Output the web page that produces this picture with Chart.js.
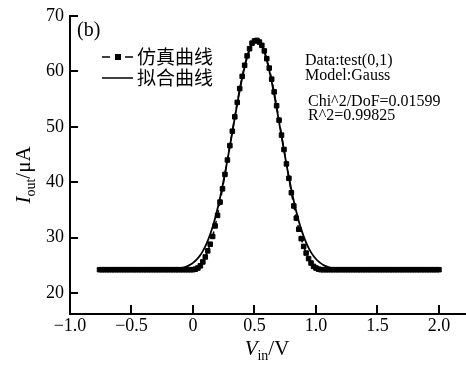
<!DOCTYPE html>
<html><head><meta charset="utf-8">
<script src="https://cdn.jsdelivr.net/npm/chart.js@4"></script>
<style>html,body{margin:0;padding:0;background:#fff;}#wrap{width:466px;height:366px;}</style>
</head><body><div id="wrap"><canvas id="c" width="466" height="366"></canvas></div>
<script>
// ---- data ----
const simV = [-0.76,-0.74,-0.72,-0.70,-0.68,-0.66,-0.64,-0.62,-0.60,-0.58,-0.56,-0.54,-0.52,-0.50,-0.48,-0.46,-0.44,-0.42,-0.40,-0.38,-0.36,-0.34,-0.32,-0.30,-0.28,-0.26,-0.24,-0.22,-0.20,-0.18,-0.16,-0.14,-0.12,-0.10,-0.08,-0.06,-0.04,-0.02,
0.00,0.02,0.04,0.06,0.08,0.10,0.12,0.14,0.16,0.18,0.20,0.22,0.24,0.26,0.28,0.30,0.32,0.34,0.36,0.38,0.40,0.42,0.44,0.46,0.48,0.50,0.52,0.54,0.56,0.58,0.60,0.62,0.64,0.66,0.68,0.70,0.72,0.74,0.76,0.78,0.80,0.82,0.84,0.86,0.88,0.90,0.92,0.94,0.96,0.98,1.00,1.02,1.04,
1.06,1.08,1.10,1.12,1.14,1.16,1.18,1.20,1.22,1.24,1.26,1.28,1.30,1.32,1.34,1.36,1.38,1.40,1.42,1.44,1.46,1.48,1.50,1.52,1.54,1.56,1.58,1.60,1.62,1.64,1.66,1.68,1.70,1.72,1.74,1.76,1.78,1.80,1.82,1.84,1.86,1.88,1.90,1.92,1.94,1.96,1.98,2.00];
const simI = [24.2,24.2,24.2,24.2,24.2,24.2,24.2,24.2,24.2,24.2,24.2,24.2,24.2,24.2,24.2,24.2,24.2,24.2,24.2,24.2,24.2,24.2,24.2,24.2,24.2,24.2,24.2,24.2,24.2,24.2,24.2,24.2,24.2,24.2,24.2,24.2,24.2,24.2,
24.2,24.3,24.5,24.9,25.6,26.5,27.6,28.8,30.2,32.1,34.0,36.4,38.8,41.4,44.0,46.6,49.2,51.8,54.4,56.9,59.1,61.1,62.8,64.1,65.1,65.5,65.6,65.3,64.7,63.7,62.3,60.6,58.6,56.3,53.8,51.2,48.5,45.9,43.3,40.7,38.1,35.7,33.5,31.5,29.8,28.4,27.2,26.2,25.4,24.8,24.5,24.3,24.2,
24.2,24.2,24.2,24.2,24.2,24.2,24.2,24.2,24.2,24.2,24.2,24.2,24.2,24.2,24.2,24.2,24.2,24.2,24.2,24.2,24.2,24.2,24.2,24.2,24.2,24.2,24.2,24.2,24.2,24.2,24.2,24.2,24.2,24.2,24.2,24.2,24.2,24.2,24.2,24.2,24.2,24.2,24.2,24.2,24.2,24.2,24.2,24.2];
const fitV = [-0.76,-0.50,-0.30,-0.20,-0.14,-0.10,-0.08,-0.06,-0.04,-0.02,0.00,0.02,0.04,0.06,0.08,0.10,0.12,0.14,0.16,0.18,0.20,0.22,0.24,0.26,0.28,0.30,0.32,0.34,0.36,0.38,0.40,0.42,0.44,0.46,0.48,0.50,0.52,0.54,0.56,0.58,0.60,0.62,0.64,0.66,0.68,0.70,0.72,0.74,0.76,0.78,0.80,0.82,0.84,0.86,0.88,0.90,0.92,0.94,0.96,0.98,1.00,1.02,1.04,1.06,1.08,1.10,1.12,1.14,1.18,1.24,1.40,1.70,2.00];
const fitI = [24.2,24.2,24.2,24.25,24.34,24.48,24.58,24.72,24.90,25.13,25.43,25.81,26.28,26.86,27.56,28.41,29.41,30.59,31.95,33.50,35.25,37.18,39.29,41.57,43.98,46.49,49.05,51.62,54.14,56.55,58.78,60.78,62.50,63.87,64.86,65.44,65.60,65.31,64.61,63.49,62.01,60.21,58.13,55.84,53.39,50.85,48.28,45.73,43.24,40.87,38.64,36.58,34.70,33.01,31.52,30.22,29.09,28.14,27.33,26.67,26.13,25.69,25.34,25.06,24.84,24.67,24.55,24.45,24.33,24.24,24.2,24.2,24.2];
const legendLabels = ['仿真曲线','拟合曲线'];
const infoLines = ['Data:test(0,1)','Model:Gauss','Chi^2/DoF=0.01599','R^2=0.99825'];
const panelLabel = '(b)';
const xTitle = ['V','in','/V'];
const yTitle = ['I','out','/μA'];

const serif = '"Liberation Serif","Times New Roman",serif';
const cjk = '"Noto Sans CJK SC","Noto Sans CJK JP",sans-serif';

const simPts = simV.map((v,i)=>({x:v,y:simI[i]}));
const fitPts = fitV.map((v,i)=>({x:v,y:fitI[i]}));

function drawTitle(ctx, parts, size, sub){
  ctx.font = 'italic '+size+'px '+serif; const w0 = ctx.measureText(parts[0]).width;
  ctx.font = sub+'px '+serif; const w1 = ctx.measureText(parts[1]).width;
  ctx.font = size+'px '+serif; const w2 = ctx.measureText(parts[2]).width;
  const tot = w0+w1+w2;
  let x = -tot/2;
  ctx.textBaseline='alphabetic'; ctx.textAlign='left';
  ctx.font = 'italic '+size+'px '+serif; ctx.fillText(parts[0], x, 0); x+=w0;
  ctx.font = sub+'px '+serif; ctx.fillText(parts[1], x, 5); x+=w1;
  ctx.font = size+'px '+serif; ctx.fillText(parts[2], x, 0);
}

const overlay = {
  id:'overlay',
  afterDraw(chart){
    const {ctx, scales:{x,y}, chartArea:a} = chart;
    ctx.save();
    ctx.strokeStyle='#000'; ctx.fillStyle='#000'; ctx.lineWidth=2;
    y.ticks.forEach(t=>{const py=Math.round(y.getPixelForValue(t.value));
      ctx.beginPath(); ctx.moveTo(a.left, py); ctx.lineTo(a.left+8, py); ctx.stroke();});
    x.ticks.forEach(t=>{ if (t.value<=x.min) return; const px=Math.round(x.getPixelForValue(t.value));
      ctx.beginPath(); ctx.moveTo(px, a.bottom); ctx.lineTo(px, a.bottom-9); ctx.stroke();});
    ctx.save(); ctx.translate(267, 355); drawTitle(ctx, xTitle, 21, 14); ctx.restore();
    ctx.save(); ctx.translate(30, 175); ctx.rotate(-Math.PI/2); drawTitle(ctx, yTitle, 21, 14); ctx.restore();
    ctx.font = '20px '+serif; ctx.textAlign='left'; ctx.textBaseline='alphabetic';
    ctx.fillText(panelLabel, 77, 36);
    ctx.lineWidth=1.5;
    ctx.beginPath(); ctx.moveTo(102,57); ctx.lineTo(110,57); ctx.moveTo(125,57); ctx.lineTo(133,57); ctx.stroke();
    ctx.fillRect(115,54,6,6);
    ctx.beginPath(); ctx.moveTo(102,78); ctx.lineTo(133,78); ctx.stroke();
    ctx.font = '19px '+cjk; ctx.textBaseline='middle';
    ctx.fillText(legendLabels[0], 137, 57);
    ctx.fillText(legendLabels[1], 137, 78);
    ctx.font = '16px '+serif; ctx.textBaseline='alphabetic';
    ctx.fillText(infoLines[0], 305, 65);
    ctx.fillText(infoLines[1], 305, 80);
    ctx.fillText(infoLines[2], 308, 106);
    ctx.fillText(infoLines[3], 308, 120);
    ctx.restore();
  }
};

new Chart(document.getElementById('c'), {
  type:'scatter',
  data:{datasets:[
    {label:legendLabels[0], data:simPts, showLine:true, borderColor:'#000', backgroundColor:'#000',
     borderWidth:1.5, borderDash:[7,4], pointStyle:'rect', pointRadius:3.2, pointBorderWidth:1, pointHoverRadius:3.2},
    {label:legendLabels[1], data:fitPts, showLine:true, borderColor:'#000', backgroundColor:'#000',
     borderWidth:1.8, pointRadius:0, cubicInterpolationMode:'monotone'}
  ]},
  options:{
    responsive:false, animation:false, devicePixelRatio:1,
    layout:{autoPadding:false, padding:{left:0,right:0,top:16,bottom:0}},
    plugins:{legend:{display:false}, tooltip:{enabled:false}},
    scales:{
      x:{type:'linear', min:-1.0, max:2.22,
         grid:{display:false, drawTicks:false},
         border:{display:true, color:'#000', width:2},
         ticks:{stepSize:0.5, includeBounds:false, padding:1, color:'#000', font:{family:serif, size:18},
           callback:v=> v===0 ? '0' : (v<0?'−':'')+Math.abs(v).toFixed(1)},
         afterFit:s=>{s.height=52; s.paddingLeft=0; s.paddingRight=0;}},
      y:{type:'linear', min:16.2, max:70,
         grid:{display:false, drawTicks:false},
         border:{display:true, color:'#000', width:2},
         ticks:{stepSize:10, includeBounds:false, padding:6, color:'#000', font:{family:serif, size:18},
           callback:v=> String(v)},
         afterFit:s=>{s.width=70; s.paddingTop=0; s.paddingBottom=0;}}
    }
  },
  plugins:[overlay]
});
</script></body></html>
